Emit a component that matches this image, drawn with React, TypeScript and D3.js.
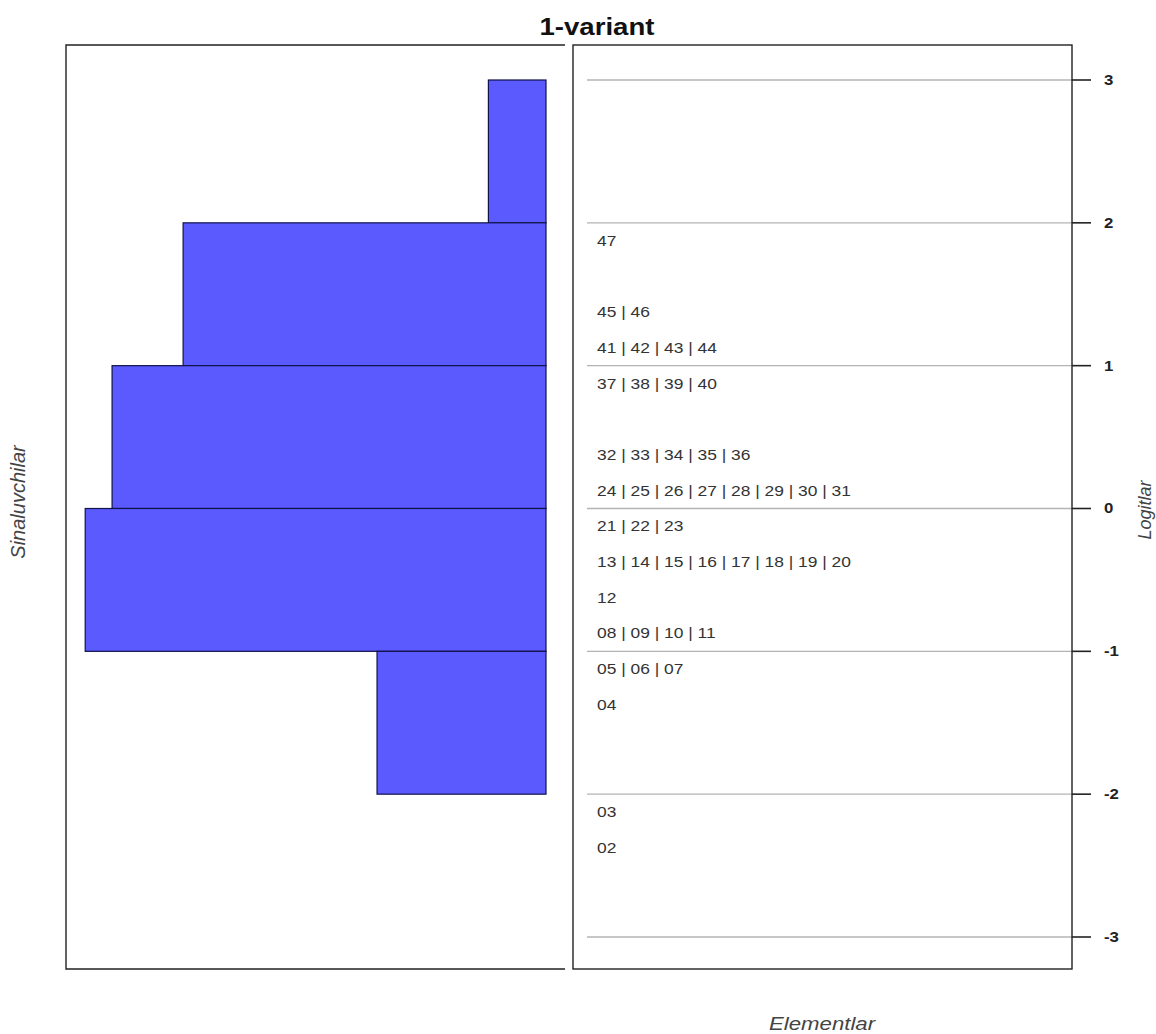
import React from "react";
import * as d3 from "d3";

// persons histogram (bins of 1 logit)
const binLow = [2, 1, 0, -1, -2];
const binCounts = [3, 18.9, 22.6, 24, 8.8];

// item labels, placed at binned logit positions
const itemRows = [
  "47",
  "45 | 46",
  "41 | 42 | 43 | 44",
  "37 | 38 | 39 | 40",
  "32 | 33 | 34 | 35 | 36",
  "24 | 25 | 26 | 27 | 28 | 29 | 30 | 31",
  "21 | 22 | 23",
  "13 | 14 | 15 | 16 | 17 | 18 | 19 | 20",
  "12",
  "08 | 09 | 10 | 11",
  "05 | 06 | 07",
  "04",
  "03",
  "02",
];
const itemLogits = [
  1.875, 1.375, 1.125, 0.875, 0.375, 0.125, -0.125, -0.375, -0.625, -0.875,
  -1.125, -1.375, -2.125, -2.375,
];

const logitTicks = [3, 2, 1, 0, -1, -2, -3];

const W = 1156;
const H = 1034;
const SX = 1.2; // picture is stretched sideways

const App = () => {
  const y = d3.scaleLinear().domain([-3, 3]).range([937, 80]);
  const x = d3.scaleLinear().domain([0, 25]).range([546, 66]);

  const left = { x0: 66, x1: 565, y0: 45, y1: 969 };
  const right = { x0: 573, x1: 1072, y0: 45, y1: 969 };

  const font = "Arial, 'Liberation Sans', sans-serif";

  return (
    <svg
      width={W}
      height={H}
      style={{ position: "absolute", left: 0, top: 0, background: "#fff" }}
      fontFamily={font}
    >
      {/* title */}
      <g transform={`translate(597,35) scale(${SX},1)`}>
        <text textAnchor="middle" fontSize={23} fontWeight="bold" fill="#111">
          1-variant
        </text>
      </g>

      {/* person histogram */}
      {binLow.map((b, i) => (
        <rect
          key={b}
          x={x(binCounts[i])}
          y={y(b + 1)}
          width={x(0) - x(binCounts[i])}
          height={y(b) - y(b + 1)}
          fill="#5a5aff"
          stroke="#12124a"
          strokeWidth={1.2}
        />
      ))}

      {/* left panel frame (open on the right) */}
      <path
        d={`M${left.x1},${left.y0}H${left.x0}V${left.y1}H${left.x1}`}
        fill="none"
        stroke="#222"
        strokeWidth={1.4}
      />

      {/* right panel */}
      {logitTicks.map((t) => (
        <line
          key={t}
          x1={587}
          x2={right.x1}
          y1={y(t)}
          y2={y(t)}
          stroke="#b4b4b4"
          strokeWidth={1.3}
        />
      ))}
      <rect
        x={right.x0}
        y={right.y0}
        width={right.x1 - right.x0}
        height={right.y1 - right.y0}
        fill="none"
        stroke="#222"
        strokeWidth={1.4}
      />

      {itemRows.map((lab, i) => (
        <g key={lab} transform={`translate(597,${y(itemLogits[i])}) scale(${SX},1)`}>
          <text fontSize={14.5} fill="#333" dominantBaseline="central">
            {lab}
          </text>
        </g>
      ))}

      {/* right axis */}
      {logitTicks.map((t) => (
        <g key={t}>
          <line x1={right.x1} x2={1091} y1={y(t)} y2={y(t)} stroke="#222" strokeWidth={1.6} />
          <g transform={`translate(1104,${y(t)}) scale(${SX},1)`}>
            <text fontSize={14} fontWeight="bold" fill="#222" dominantBaseline="central">
              {t}
            </text>
          </g>
        </g>
      ))}

      {/* axis titles */}
      <text
        transform="translate(1151,510) rotate(-90)"
        textAnchor="middle"
        fontSize={18}
        fontStyle="italic"
        fill="#444"
      >
        Logitlar
      </text>
      <text
        transform="translate(25,502) rotate(-90)"
        textAnchor="middle"
        fontSize={20}
        fontStyle="italic"
        fill="#444"
      >
        Sinaluvchilar
      </text>
      <g transform="translate(822,1030) scale(1.17,1)">
        <text textAnchor="middle" fontSize={19} fontStyle="italic" fill="#444">
          Elementlar
        </text>
      </g>
    </svg>
  );
};

export default App;
